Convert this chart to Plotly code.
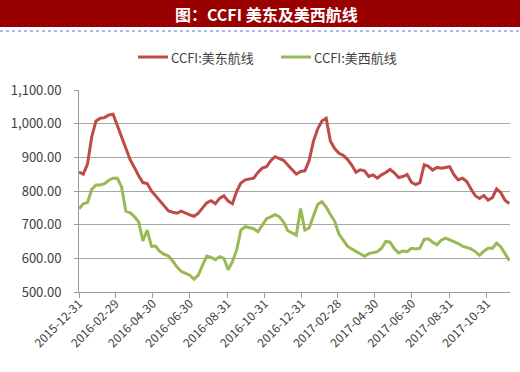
import pandas as pd
import plotly.graph_objects as go

start_date = "2015-12-31"
n_weeks = 102
dates = pd.date_range(start_date, periods=n_weeks, freq="7D")

east_name = "CCFI:美东航线"
west_name = "CCFI:美西航线"

east = [856, 850, 880, 962, 1008, 1016, 1018, 1026, 1028, 993,
        962, 925, 893, 870, 845, 825, 822, 800, 786, 771,
        757, 741, 737, 734, 740, 734, 729, 725, 734, 750,
        765, 771, 762, 778, 786, 770, 762, 799, 824, 833,
        836, 838, 855, 868, 872, 890, 902, 897, 891, 877,
        864, 850, 858, 860, 890, 947, 984, 1008, 1016, 948,
        926, 912, 906, 894, 877, 856, 863, 860, 843, 848,
        838, 848, 855, 864, 854, 840, 843, 849, 826, 819,
        825, 878, 873, 862, 870, 868, 870, 872, 848, 833,
        838, 828, 806, 786, 778, 787, 773, 780, 806, 795,
        772, 763]

west = [747, 762, 766, 805, 818, 818, 822, 832, 838, 838,
        812, 740, 736, 724, 708, 652, 684, 636, 636, 620,
        612, 607, 592, 574, 561, 556, 550, 538, 550, 580,
        607, 603, 596, 605, 600, 566, 590, 625, 684, 694,
        692, 688, 679, 700, 718, 723, 730, 724, 708, 682,
        676, 669, 748, 684, 690, 728, 760, 768, 752, 730,
        710, 672, 652, 636, 628, 620, 612, 606, 614, 618,
        620, 630, 650, 648, 628, 616, 622, 620, 630, 628,
        630, 656, 658, 648, 640, 654, 660, 655, 650, 644,
        636, 632, 628, 620, 609, 621, 630, 630, 645, 634,
        615, 593]

tick_labels = ["2015-12-31", "2016-02-29", "2016-04-30", "2016-06-30",
               "2016-08-31", "2016-10-31", "2016-12-31", "2017-02-28",
               "2017-04-30", "2017-06-30", "2017-08-31", "2017-10-31"]
y_ticks = [500, 600, 700, 800, 900, 1000, 1100]
x_end = "2017-12-08"
title_text = "图：CCFI 美东及美西航线"

east_color = "#BE4B48"
west_color = "#98B954"

W, H = 520, 372
ml, mr, mt, mb = 79, 10, 90, 80
pw, ph = W - ml - mr, H - mt - mb


def px_x(x):
    return (x - ml) / pw


def px_y(y):
    return 1 - (y - mt) / ph


fig = go.Figure()
fig.add_trace(go.Scatter(x=dates, y=east, mode="lines", name=east_name,
                         line=dict(color=east_color, width=3)))
fig.add_trace(go.Scatter(x=dates, y=west, mode="lines", name=west_name,
                         line=dict(color=west_color, width=3)))

font_main = "Noto Sans CJK SC, Noto Sans, sans-serif"

fig.update_layout(
    width=W, height=H,
    margin=dict(l=ml, r=mr, t=mt, b=mb),
    paper_bgcolor="white", plot_bgcolor="white",
    font=dict(family=font_main, size=12, color="#404040"),
    showlegend=False,
    xaxis=dict(type="date", range=[start_date, x_end],
               tickvals=tick_labels, ticktext=tick_labels, tickangle=-45,
               showgrid=False, showline=True, linecolor="#9a9a9a", linewidth=1,
               ticks="outside", ticklen=5, tickcolor="#9a9a9a",
               ticklabelstandoff=-6,
               tickfont=dict(size=12, color="#404040"), zeroline=False),
    yaxis=dict(range=[500, 1100], tickvals=y_ticks, tickformat=",.2f",
               showgrid=True, gridcolor="#a6a6a6", gridwidth=1,
               showline=True, linecolor="#9a9a9a", linewidth=1,
               ticks="outside", ticklen=4, tickcolor="#9a9a9a",
               ticklabelstandoff=10,
               tickfont=dict(size=13, color="#404040"), zeroline=False),
)

# title bar
fig.add_shape(type="rect", xref="paper", yref="paper",
              x0=px_x(0), x1=px_x(W), y0=px_y(27), y1=px_y(0),
              fillcolor="#990000", line=dict(width=0), layer="above")
fig.add_shape(type="line", xref="paper", yref="paper",
              x0=px_x(0), x1=px_x(W), y0=px_y(31), y1=px_y(31),
              line=dict(color="#5a6fd8", width=1, dash="dot"))
fig.add_annotation(text="<b>" + title_text + "</b>", xref="paper", yref="paper",
                   x=px_x(266), y=px_y(14),
                   xanchor="center", yanchor="middle", showarrow=False,
                   font=dict(family="Noto Sans CJK SC, sans-serif", size=16, color="white"))

# legend
for name, color, x0 in [(east_name, east_color, 138), (west_name, west_color, 281)]:
    fig.add_shape(type="line", xref="paper", yref="paper",
                  x0=px_x(x0), x1=px_x(x0 + 30), y0=px_y(57), y1=px_y(57),
                  line=dict(color=color, width=3))
    fig.add_annotation(text=name, xref="paper", yref="paper",
                       x=px_x(x0 + 31), y=px_y(57), xanchor="left", yanchor="middle",
                       showarrow=False,
                       font=dict(family=font_main, size=13, color="#404040"))

fig.write_html("out.html")
